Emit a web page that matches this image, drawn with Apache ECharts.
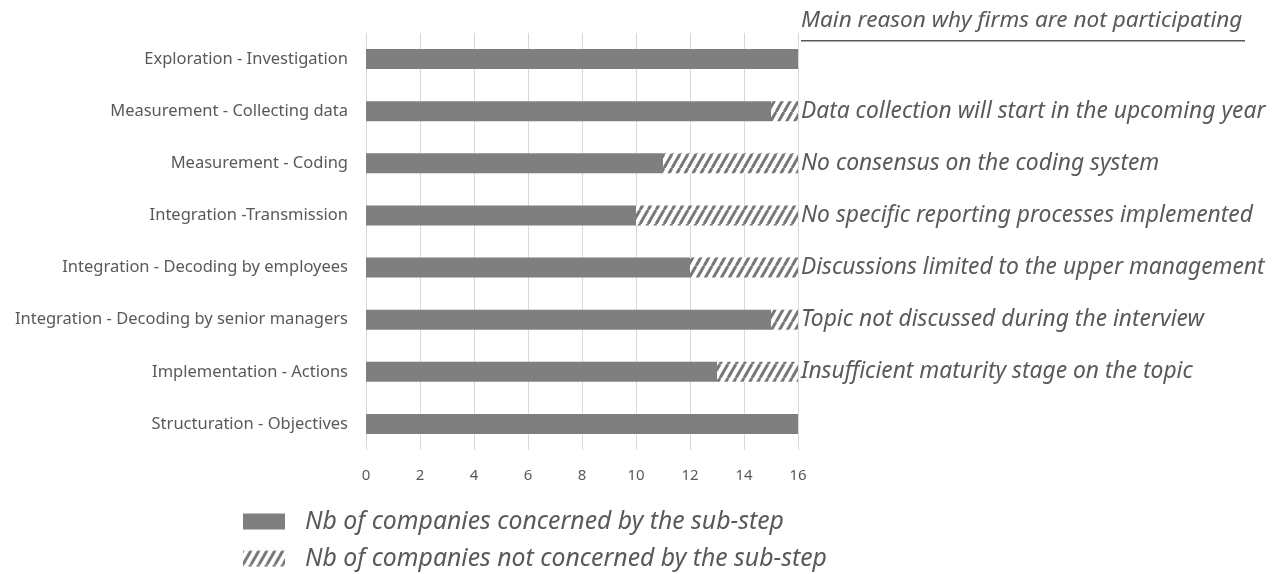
<!DOCTYPE html>
<html><head><meta charset="utf-8">
<script src="https://cdn.jsdelivr.net/npm/echarts@6/dist/echarts.min.js"></script>
<style>html,body{margin:0;padding:0;background:#fff}#c{width:1281px;height:574px}</style>
</head><body><div id="c"></div>
<script>
const categories = ["Exploration - Investigation","Measurement - Collecting data","Measurement - Coding","Integration -Transmission","Integration - Decoding by employees","Integration - Decoding by senior managers","Implementation - Actions","Structuration - Objectives"];
const concerned = [16,15,11,10,12,15,13,16];
const notConcerned = [0,1,5,6,4,1,3,0];
const reasons = ["","Data collection will start in the upcoming year","No consensus on the coding system","No specific reporting processes implemented","Discussions limited to the upper management","Topic not discussed during the interview","Insufficient maturity stage on the topic",""];
const xTicks = [0,2,4,6,8,10,12,14,16];
const titleText = "Main reason why firms are not participating";
const seriesNames = ["Nb of companies concerned by the sub-step","Nb of companies not concerned by the sub-step"];

const FONT = "Noto Sans";
const GREY = "#595959";
const BAR = "#7f7f7f";

// hatch pattern
const pc = document.createElement('canvas');
pc.width = 8; pc.height = 14;
const g = pc.getContext('2d');
g.fillStyle = '#fff'; g.fillRect(0,0,8,14);
g.strokeStyle = '#777'; g.lineWidth = 3;
for (let k=-1;k<=1;k++){ g.beginPath(); g.moveTo(k*8,14); g.lineTo(k*8+8,0); g.stroke(); }

const legendText = {color:GREY,fontFamily:FONT,fontSize:24.8,fontStyle:'italic',padding:[0,0,0,15]};
const chart = echarts.init(document.getElementById('c'));
chart.setOption({
  animation:false,
  grid:{left:366,right:483,top:33,bottom:124,containLabel:false},
  xAxis:{type:'value',min:0,max:16,interval:2,
    axisLine:{show:false},axisTick:{show:false},
    splitLine:{show:true,lineStyle:{color:'#d9d9d9',width:1}},
    axisLabel:{color:GREY,fontFamily:FONT,fontSize:15,margin:18,
      formatter:v=>xTicks.includes(v)?String(v):''}},
  yAxis:{type:'category',data:categories,inverse:true,
    axisLine:{show:false},axisTick:{show:false},
    axisLabel:{color:GREY,fontFamily:FONT,fontSize:16.5,margin:18}},
  legend:[
    {left:243,top:509,padding:0,itemWidth:42,itemHeight:16,icon:'rect',textStyle:legendText,data:[seriesNames[0]],selectedMode:false},
    {left:243,top:546,padding:0,itemWidth:42,itemHeight:16,icon:'rect',textStyle:legendText,data:[seriesNames[1]],selectedMode:false}
  ],
  series:[
    {name:seriesNames[0],type:'bar',stack:'a',data:concerned,barWidth:20,
      itemStyle:{color:BAR}},
    {name:seriesNames[1],type:'bar',stack:'a',data:notConcerned,barWidth:20,
      itemStyle:{color:{image:pc,repeat:'repeat'}},
      label:{show:true,position:'right',distance:3,color:GREY,fontFamily:FONT,fontSize:22.8,fontStyle:'italic',
        formatter:p=>reasons[p.dataIndex]}}
  ],
  graphic:[
    {type:'text',left:801,top:9,style:{text:titleText,fill:GREY,font:'italic 22.6px "Noto Sans"'}},
    {type:'rect',left:801,top:40,shape:{width:444,height:1.5},style:{fill:GREY}}
  ]
});
</script></body></html>
